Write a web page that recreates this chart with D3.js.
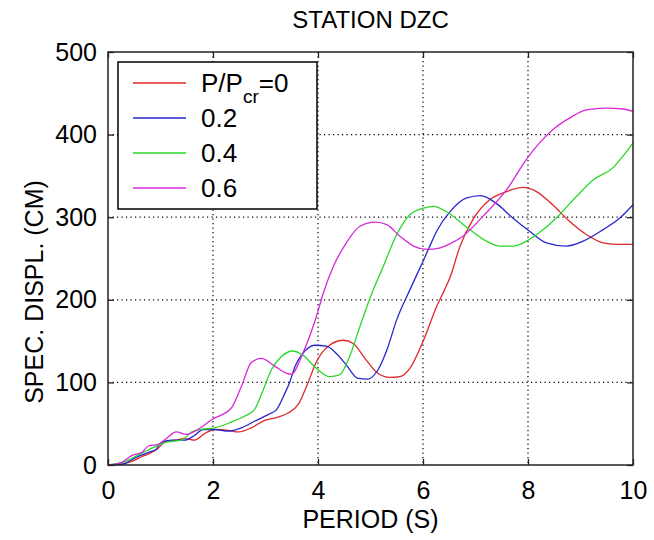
<!DOCTYPE html>
<html lang="en">
<head>
    <meta charset="UTF-8" />
    <title>Station DZC spectral displacement</title>
    <script src="https://d3js.org/d3.v7.min.js"></script>
    <style>
        body {
            margin: 0;
            background: #fff;
            font-family: "Liberation Sans", Arial, sans-serif;
        }
    </style>
</head>
<body>
    <div id="chart"></div>
    <script>
        // Data: period (s) and spectral displacement (cm)
        var xTicks = [0, 2, 4, 6, 8, 10];
        var yTicks = [0, 100, 200, 300, 400, 500];

        var periodP0 = [0, 0.25, 0.44, 0.64, 0.79, 0.95, 1.08, 1.27, 1.46, 1.65, 1.84, 2.03, 2.29, 2.48, 2.73, 2.98, 3.24, 3.43, 3.62, 3.8, 3.97, 4.22, 4.48, 4.67, 4.92, 5.14, 5.37, 5.56, 5.75, 6.01, 6.26, 6.41, 6.52, 6.7, 6.95, 7.27, 7.59, 7.9, 8.16, 8.47, 8.79, 9.11, 9.43, 9.75, 10];
        var dispP0 = [0, 1, 4, 10, 14, 20, 28, 30, 32, 30, 38, 43, 42, 40, 45, 54, 58, 63, 73, 98, 125, 145, 151, 147, 127, 111, 106, 107, 117, 151, 192, 212, 228, 264, 297, 321, 331, 336, 331, 315, 295, 279, 269, 267, 267];

        var periodP2 = [0, 0.28, 0.5, 0.76, 0.92, 0.99, 1.21, 1.46, 1.65, 1.81, 2.03, 2.29, 2.54, 2.79, 3.05, 3.21, 3.37, 3.46, 3.56, 3.71, 3.94, 4.16, 4.35, 4.54, 4.76, 4.95, 5.14, 5.31, 5.5, 5.75, 6.01, 6.13, 6.26, 6.52, 6.82, 7.1, 7.39, 7.71, 8.03, 8.35, 8.73, 9.05, 9.43, 9.75, 10];
        var dispP2 = [0, 1, 8, 15, 19, 26, 30, 30, 36, 43, 43, 41, 45, 53, 61, 67, 87, 100, 119, 135, 145, 144, 135, 121, 105, 104, 115, 139, 176, 212, 248, 265, 283, 307, 323, 326, 317, 299, 283, 269, 265, 271, 285, 299, 315];

        var periodP4 = [0, 0.32, 0.57, 0.89, 1.14, 1.4, 1.59, 1.78, 2.03, 2.35, 2.6, 2.79, 2.95, 3.11, 3.3, 3.52, 3.71, 3.97, 4.22, 4.41, 4.6, 4.8, 4.99, 5.24, 5.5, 5.75, 6.01, 6.2, 6.46, 6.89, 7.21, 7.46, 7.72, 7.97, 8.29, 8.6, 8.92, 9.24, 9.62, 9.81, 10];
        var dispP4 = [0, 4, 12, 22, 28, 30, 40, 43, 45, 52, 59, 67, 90, 115, 131, 138, 133, 117, 107, 109, 131, 168, 202, 240, 279, 303, 311, 313, 306, 285, 271, 265, 265, 271, 285, 303, 325, 345, 360, 374, 390];

        var periodP6 = [0, 0.25, 0.47, 0.64, 0.77, 0.96, 1.11, 1.3, 1.49, 1.71, 1.98, 2.35, 2.54, 2.73, 2.92, 3.17, 3.4, 3.49, 3.71, 3.97, 4.1, 4.29, 4.54, 4.8, 5.09, 5.31, 5.56, 5.82, 6.07, 6.33, 6.52, 6.76, 7.14, 7.59, 7.97, 8.22, 8.47, 8.79, 9.11, 9.49, 9.81, 10];
        var dispP6 = [0, 3, 12, 15, 23, 25, 32, 40, 37, 43, 55, 69, 95, 124, 129, 120, 111, 110, 135, 180, 208, 240, 269, 289, 294, 291, 277, 265, 261, 263, 268, 277, 301, 333, 370, 390, 406, 420, 430, 432, 431, 428];

        var seriesNames = ["0", "0.2", "0.4", "0.6"];
        var seriesColors = ["#e02828", "#2828d0", "#28d828", "#d828d8"];
        var seriesPeriods = [periodP0, periodP2, periodP4, periodP6];
        var seriesDisp = [dispP0, dispP2, dispP4, dispP6];

        var w = 654;
        var h = 540;
        var margin = { top: 52, right: 21, bottom: 75, left: 108 };
        var innerW = w - margin.left - margin.right;
        var innerH = h - margin.top - margin.bottom;

        var svg = d3.select("#chart")
            .append("svg")
            .attr("width", w)
            .attr("height", h);

        var g = svg.append("g")
            .attr("transform", "translate(" + margin.left + "," + margin.top + ")");

        var xScale = d3.scaleLinear().domain([0, 10]).range([0, innerW]);
        var yScale = d3.scaleLinear().domain([0, 500]).range([innerH, 0]);

        // dotted grid (inner lines only)
        g.selectAll(".gx")
            .data(xTicks.slice(1, -1))
            .enter()
            .append("line")
            .attr("x1", function(d) { return xScale(d); })
            .attr("x2", function(d) { return xScale(d); })
            .attr("y1", 0)
            .attr("y2", innerH)
            .attr("stroke", "#000")
            .attr("stroke-width", 1.2)
            .attr("stroke-dasharray", "1.2,3.3");

        g.selectAll(".gy")
            .data(yTicks.slice(1, -1))
            .enter()
            .append("line")
            .attr("x1", 0)
            .attr("x2", innerW)
            .attr("y1", function(d) { return yScale(d); })
            .attr("y2", function(d) { return yScale(d); })
            .attr("stroke", "#000")
            .attr("stroke-width", 1.2)
            .attr("stroke-dasharray", "1.2,3.3");

        // curves
        var line = d3.line()
            .x(function(d) { return xScale(d[0]); })
            .y(function(d) { return yScale(d[1]); })
            .curve(d3.curveMonotoneX);

        seriesPeriods.forEach(function(per, i) {
            var pts = per.map(function(p, j) { return [p, seriesDisp[i][j]]; });
            g.append("path")
                .datum(pts)
                .attr("fill", "none")
                .attr("stroke", seriesColors[i])
                .attr("stroke-width", 1.3)
                .attr("d", line);
        });

        // frame and inward ticks on all four sides
        var axisColor = "#222";
        g.append("rect")
            .attr("width", innerW)
            .attr("height", innerH)
            .attr("fill", "none")
            .attr("stroke", axisColor)
            .attr("stroke-width", 1.5);

        var fontSize = 25;
        var xAxis = d3.axisBottom(xScale).tickValues(xTicks).tickSizeInner(-6).tickSizeOuter(0).tickPadding(16);
        var xAxisG = g.append("g")
            .attr("transform", "translate(0," + innerH + ")")
            .call(xAxis);
        var yAxis = d3.axisLeft(yScale).tickValues(yTicks).tickSizeInner(-6).tickSizeOuter(0).tickPadding(11);
        var yAxisG = g.append("g").call(yAxis);
        g.append("g").call(d3.axisTop(xScale).tickValues(xTicks).tickSizeInner(-6).tickSizeOuter(0).tickFormat(""));
        g.append("g")
            .attr("transform", "translate(" + innerW + ",0)")
            .call(d3.axisRight(yScale).tickValues(yTicks).tickSizeInner(-6).tickSizeOuter(0).tickFormat(""));

        svg.selectAll(".domain").remove();
        svg.selectAll(".tick line").attr("stroke", axisColor).attr("stroke-width", 1.3);
        svg.selectAll(".tick text")
            .attr("fill", "#000")
            .style("font-family", "'Liberation Sans', Arial, sans-serif")
            .style("font-size", fontSize + "px");

        // legend
        var lg = g.append("g").attr("transform", "translate(10,10)");
        lg.append("rect")
            .attr("width", 199)
            .attr("height", 147)
            .attr("fill", "#fff")
            .attr("stroke", "#000")
            .attr("stroke-width", 1.5);

        seriesNames.forEach(function(name, i) {
            var cy = 21 + i * 35;
            lg.append("line")
                .attr("x1", 15).attr("x2", 68)
                .attr("y1", cy).attr("y2", cy)
                .attr("stroke", seriesColors[i])
                .attr("stroke-width", 1.3);
            var t = lg.append("text")
                .attr("x", 83)
                .attr("y", cy + 9)
                .attr("fill", "#000")
                .style("font-size", "26px");
            if (i === 0) {
                t.append("tspan").text("P/P");
                t.append("tspan").attr("dy", 11).style("font-size", "19px").text("cr");
                t.append("tspan").attr("dy", -11).text("=" + name);
            } else {
                t.text(name);
            }
        });

        // titles
        svg.append("text")
            .attr("x", margin.left + innerW / 2)
            .attr("y", 28)
            .attr("text-anchor", "middle")
            .style("font-size", "24px")
            .text("STATION DZC");

        svg.append("text")
            .attr("x", margin.left + innerW / 2)
            .attr("y", 528)
            .attr("text-anchor", "middle")
            .style("font-size", "25px")
            .text("PERIOD (S)");

        svg.append("text")
            .attr("transform", "translate(43,292) rotate(-90)")
            .attr("text-anchor", "middle")
            .style("font-size", "25px")
            .text("SPEC. DISPL. (CM)");
    </script>
</body>
</html>
